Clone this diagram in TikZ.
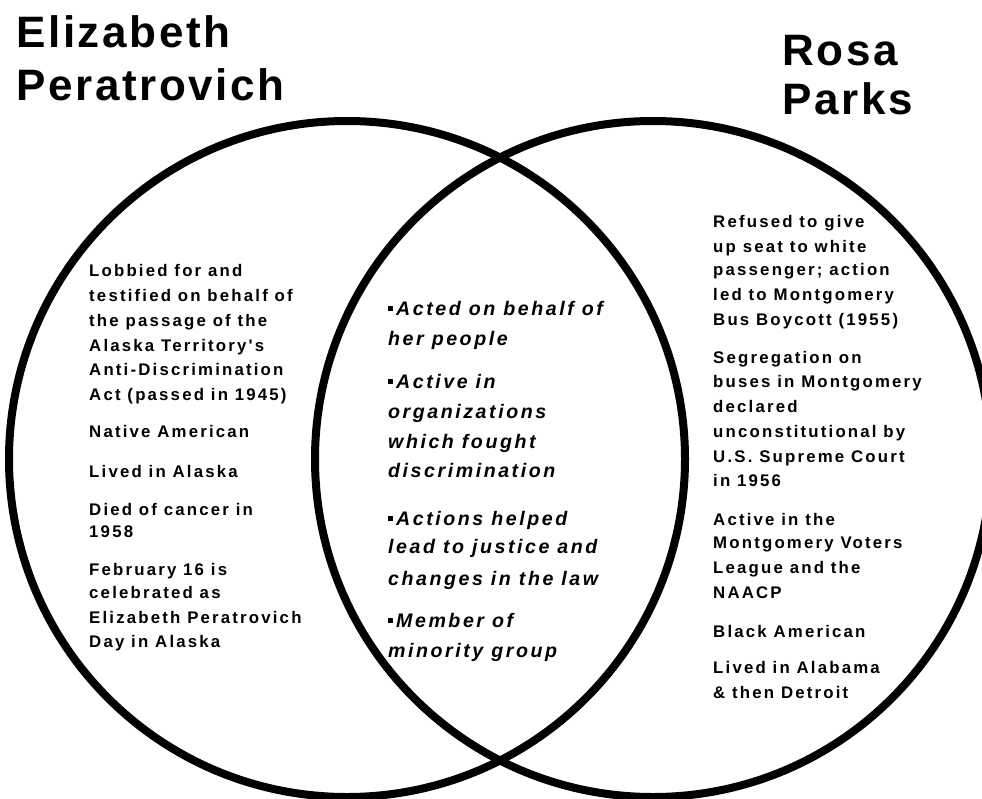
\documentclass[tikz,border=0pt]{standalone}
\usepackage{fontspec}
\setmainfont{Liberation Sans}
\newfontfamily\titlefont[LetterSpace=6]{Liberation Sans}
\newfontfamily\bodyfont[LetterSpace=13]{Liberation Sans}
\newcommand\mbul{\raisebox{4.5pt}{\rule{4.5pt}{4.5pt}}\kern3.5pt}
\begin{document}
\begin{tikzpicture}[x=1pt,y=-1pt,
  venn/.style={circle,draw,line width=8pt,minimum size=676pt,inner sep=0pt},
  title/.style={font=\titlefont\bfseries\fontsize{44}{44}\selectfont,inner sep=0pt,anchor=base west},
  side/.style={font=\bodyfont\bfseries\fontsize{16.8}{20}\selectfont,inner sep=0pt,anchor=base west},
  mid/.style={font=\bodyfont\bfseries\itshape\fontsize{19.6}{24}\selectfont,inner sep=0pt,anchor=base west}]
\useasboundingbox (0,0) rectangle (982,798);
\fill[white] (0,0) rectangle (982,798);
\node[venn] (EP) at (347,459) {};
\node[venn] (RP) at (653,459) {};
\node[title] (t1) at (16,47) {Elizabeth};
\node[title] (t2) at (16,100) {Peratrovich};
\node[title] (t3) at (782,65) {Rosa};
\node[title] (t4) at (782,114) {Parks};
\foreach \y/\t [count=\i] in {
  276/Lobbied for and,
  301/testified on behalf of,
  326/the passage of the,
  351/Alaska Territory's,
  375/Anti-Discrimination,
  400/Act (passed in 1945),
  437/Native American,
  477/Lived in Alaska,
  515/Died of cancer in,
  537/1958,
  575/February 16 is,
  598/celebrated as,
  623/Elizabeth Peratrovich,
  647/Day in Alaska}
  \node[side] (l\i) at (89,\y) {\t};
\foreach \y/\t [count=\i] in {
  227/Refused to give,
  252/up seat to white,
  275/passenger; action,
  300/led to Montgomery,
  325/Bus Boycott (1955),
  363/Segregation on,
  387/buses in Montgomery,
  412/declared,
  437/unconstitutional by,
  462/U.S. Supreme Court,
  486/in 1956,
  525/Active in the,
  548/Montgomery Voters,
  573/League and the,
  598/NAACP,
  637/Black American,
  673/Lived in Alabama,
  698/\& then Detroit}
  \node[side] (r\i) at (713,\y) {\t};
\foreach \y/\t [count=\i] in {
  315/\mbul Acted on behalf of,
  345/her people,
  388/\mbul Active in,
  418/organizations,
  448/which fought,
  477/discrimination,
  525/\mbul Actions helped,
  553/lead to justice and,
  585/changes in the law,
  627/\mbul Member of,
  657/minority group}
  \node[mid] (m\i) at (388,\y) {\t};
\end{tikzpicture}
\end{document}
